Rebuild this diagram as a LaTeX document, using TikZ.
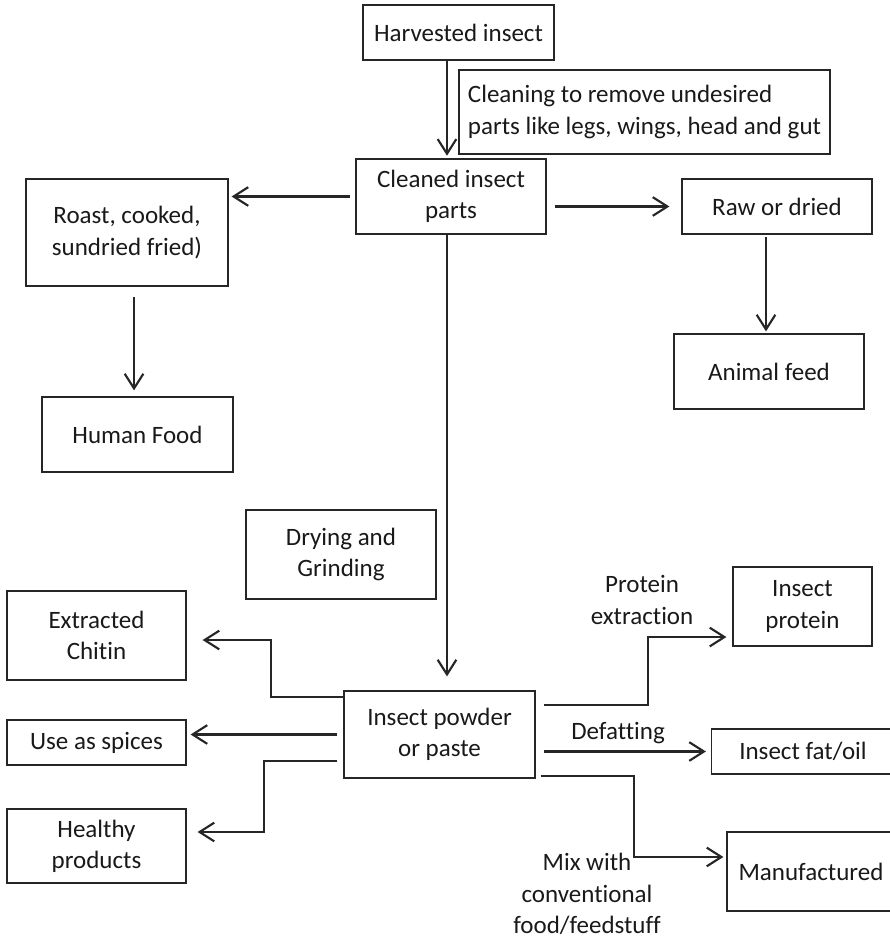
\documentclass[tikz,border=0pt]{standalone}
\usepackage{fontspec}
\setmainfont{Carlito}[Ligatures=NoCommon]
\usetikzlibrary{arrows.meta}

\tikzset{
    box/.style={draw=black!85, line width=0.9pt, inner sep=2pt, align=center, text=black!90,
        font=\fontsize{18.75pt}{23.5pt}\selectfont},
    lbl/.style={inner sep=0pt, align=center, text=black!90,
        font=\fontsize{18.75pt}{23.5pt}\selectfont},
    flow/.style={draw=black!85, line width=1.6pt, -{Straight Barb[length=11pt,width=14pt]}}
}

\begin{document}
\begin{tikzpicture}[x=0.75pt,y=-0.75pt]

        \useasboundingbox (0,0) rectangle (889,938);

        %Shape: Rectangle [id:harv] 
        \node (harv) at (458.5,32.5) [box, minimum width=143.25pt, minimum height=41.25pt] {Harvested insect};
        %Shape: Rectangle [id:note] 
        \node (note) at (644.5,112) [box, align=left, minimum width=278.25pt, minimum height=63pt] {Cleaning to remove undesired\\parts like legs, wings, head and gut};
        %Shape: Rectangle [id:cleaned] 
        \node (cleaned) at (451,196.5) [box, minimum width=142.5pt, minimum height=56.25pt] {Cleaned insect\\parts};
        %Shape: Rectangle [id:roast] 
        \node (roast) at (127,232.5) [box, minimum width=151.5pt, minimum height=80.25pt] {Roast, cooked,\\sundried fried)};
        %Shape: Rectangle [id:human] 
        \node (human) at (137.5,434.5) [box, minimum width=143.25pt, minimum height=56.25pt] {Human Food};
        %Shape: Rectangle [id:raw] 
        \node (raw) at (777,206.5) [box, minimum width=142.5pt, minimum height=41.25pt] {Raw or dried};
        %Shape: Rectangle [id:animal] 
        \node (animal) at (769,371.5) [box, minimum width=142.5pt, minimum height=56.25pt] {Animal feed};
        %Shape: Rectangle [id:drying] 
        \node (drying) at (341,554.5) [box, minimum width=142.5pt, minimum height=66.75pt] {Drying and\\Grinding};
        %Shape: Rectangle [id:powder] 
        \node (powder) at (439.5,734.5) [box, minimum width=143.25pt, minimum height=65.25pt] {Insect powder\\or paste};
        %Shape: Rectangle [id:chitin] 
        \node (chitin) at (96.5,635.5) [box, minimum width=134.25pt, minimum height=66.75pt] {Extracted\\Chitin};
        %Shape: Rectangle [id:spices] 
        \node (spices) at (96.5,742.5) [box, minimum width=134.25pt, minimum height=33.75pt] {Use as spices};
        %Shape: Rectangle [id:healthy] 
        \node (healthy) at (96.5,846) [box, minimum width=134.25pt, minimum height=55.5pt] {Healthy\\products};
        %Shape: Rectangle [id:protein] 
        \node (protein) at (802.5,606.5) [box, minimum width=104.25pt, minimum height=59.25pt] {Insect\\protein};
        %Shape: Rectangle [id:fat] 
        \node (fat) at (803,751.5) [box, minimum width=137.25pt, minimum height=33.75pt] {Insect fat/oil};
        %Shape: Rectangle [id:manuf] 
        \node (manuf) at (811,871.5) [box, minimum width=126pt, minimum height=59.25pt] {Manufactured};

        \coordinate (spine) at (447,0);

        %Straight Lines [id:harv-cleaned] 
        \draw [flow, shorten >=2pt] (harv.south -| spine) -- (cleaned.north -| spine);
        %Straight Lines [id:cleaned-roast] 
        \draw [flow, shorten <=3.75pt, shorten >=2.25pt] (cleaned.west) -- (cleaned.west -| roast.east);
        %Straight Lines [id:cleaned-raw] 
        \draw [flow, shorten <=6pt, shorten >=9pt] (cleaned.east |- raw.west) -- (raw.west);
        %Straight Lines [id:raw-animal] 
        \draw [flow, shorten <=1.5pt, shorten >=1.5pt] ([xshift=-2.25pt]animal.north |- raw.south) -- ([xshift=-2.25pt]animal.north);
        %Straight Lines [id:roast-human] 
        \draw [flow, shorten <=7.5pt, shorten >=4.5pt] ([xshift=-2.6pt]human.north |- roast.south) -- ([xshift=-2.6pt]human.north);
        %Straight Lines [id:cleaned-powder] 
        \draw [flow, shorten >=10.5pt] (cleaned.south -| spine) -- (powder.north -| spine);

        %Elbow Lines [id:powder-chitin] 
        \draw [flow, shorten >=12pt] ([yshift=-5.25pt]powder.north west) -- ++(-54pt,0) |- ([yshift=-3.4pt]chitin.east);
        %Straight Lines [id:powder-spices] 
        \draw [flow, shorten <=4.5pt, shorten >=3pt] (powder.west) -- (powder.west -| spices.east);
        %Elbow Lines [id:powder-healthy] 
        \draw [flow, shorten <=4.5pt, shorten >=8.25pt] ([yshift=-20pt]powder.west) -- ++(-59.25pt,0) |- ([yshift=10.5pt]healthy.east);

        %Elbow Lines [id:powder-protein] 
        \draw [flow, shorten <=6pt, shorten >=4.5pt] ([yshift=-11.25pt]powder.north east) -- ++(84pt,0) |- ([yshift=-22.9pt]protein.west);
        %Straight Lines [id:powder-fat] 
        \draw [flow, shorten <=6pt, shorten >=3.75pt] (powder.east |- fat.west) -- (fat.west);
        %Elbow Lines [id:powder-manuf] 
        \draw [flow, shorten <=3.75pt, shorten >=2.25pt] ([yshift=2.25pt]powder.south east) -- ++(73.5pt,0) |- ([yshift=10.9pt]manuf.west);

        % Text Node
        \node (protlbl) at (642,600) [lbl] {Protein\\extraction};
        % Text Node
        \node (fatlbl) at (618,733) [lbl] {Defatting};
        % Text Node
        \node (mixlbl) at (587,894) [lbl] {Mix with\\conventional\\food/feedstuff};

\end{tikzpicture}
\end{document}
